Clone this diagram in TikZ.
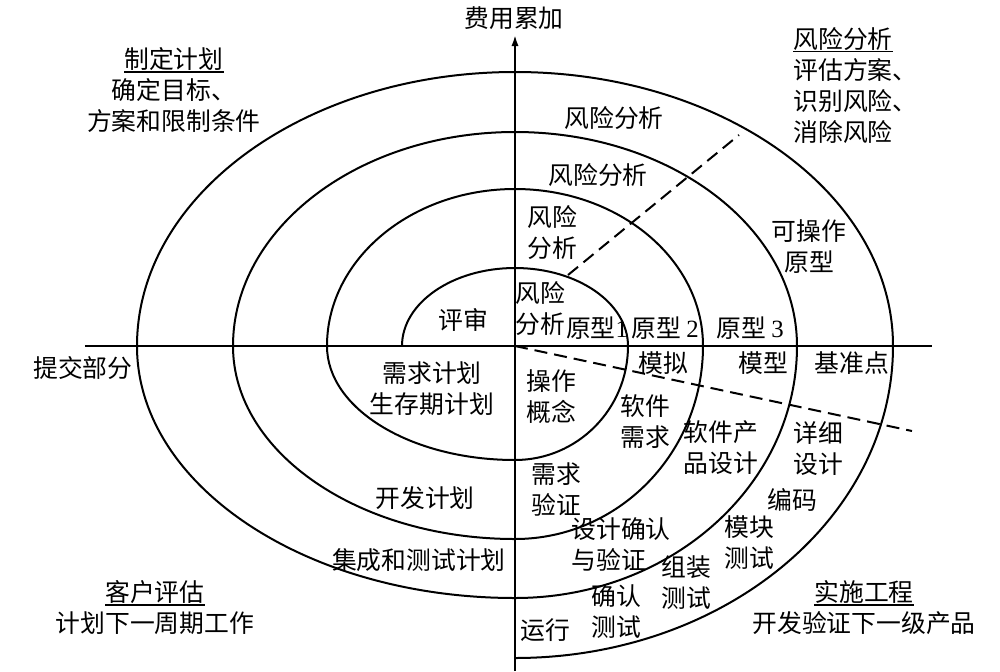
\documentclass[tikz,border=0pt]{standalone}
\usepackage{fontspec}
\setmainfont{Noto Sans CJK SC}
\newfontfamily\numfont{Liberation Serif}
\usetikzlibrary{arrows.meta,
                positioning}
\newcommand\qtitle[1]{\setbox0\hbox{#1}\rlap{\rule[-2.2pt]{\wd0}{0.9pt}}\box0}
\tikzset{
       arr/.style = {-{Latex[length=5.5pt, width=3.6pt]}, line width=1pt},   % <--- axis arrow
       lbl/.style = {inner sep=0pt, align=center, % <---
                     font=\fontsize{12.4pt}{15.5pt}\selectfont},
      note/.style = {lbl, align=left},
    spiral/.style = {line width=1pt, line join=round},
       cut/.style = {line width=1pt, dash pattern=on 6.5pt off 3.5pt},
        }

\begin{document}
\begin{tikzpicture}[x=0.5pt, y=0.5pt]
  \useasboundingbox (-515,-325) rectangle (485,346);
  % axes
  \coordinate (O) at (0,0);
  \coordinate (ybot) at (0,-325);
  \coordinate (ytop) at (0,311);
  \coordinate (xl) at (-430,0);
  \coordinate (xr) at (417,0);
  \draw[line width=1pt] (xl) -- (xr);
  \draw[arr] (ybot) -- (ytop);
  % spiral, one quarter ellipse per quadrant
  \draw[spiral] (-113,0)
    \foreach \sa/\ea/\rx/\ry in {180/90/113/78, 90/0/113/78, 0/-90/113/114,
        270/180/188/114, 180/90/188/157, 90/0/188/157, 0/-90/188/193,
        270/180/282/193, 180/90/282/214, 90/0/282/214, 0/-90/282/252,
        270/180/378/252, 180/90/378/274, 90/0/378/274, 0/-90/378/312}
    { arc[start angle=\sa, end angle=\ea, x radius=\rx, y radius=\ry] };
  % dashed cuts
  \coordinate (cutA) at (53,71);
  \coordinate (cutB) at (224,211);
  \coordinate (cutC) at (397,-85);
  \draw[cut] (cutA) -- (cutB);
  \draw[cut] (O) -- (cutC);
  % quadrant titles
  \node[lbl] (cost) at (-1,328) {费用累加};
  \node[lbl] (plan) at (-341,256) {\qtitle{制定计划}\\确定目标、\\方案和限制条件};
  \node[note, anchor=west] (risk) at (278,261) {\qtitle{风险分析}\\评估方案、\\识别风险、\\消除风险};
  \node[lbl] (deliver) at (-432,-22) {提交部分};
  \node[lbl] (client) at (-360,-261.5) {\qtitle{客户评估}\\计划下一周期工作};
  \node[lbl] (build) at (349,-261.5) {\qtitle{实施工程}\\开发验证下一级产品};
  % upper half
  \node[lbl] (review) at (-52,26) {评审};
  \node[lbl] (riskD) at (99,228) {风险分析};
  \node[lbl] (riskC) at (83,171) {风险分析};
  \node[lbl] (riskB) at (37,113) {风险\\分析};
  \node[lbl] (riskA) at (25,37) {风险\\分析};
  \node[lbl] (protoA) at (82,18) {原型{\numfont 1}};
  \node[lbl] (protoB) at (150,18) {原型 {\numfont 2}};
  \node[lbl] (protoC) at (235,18) {原型 {\numfont 3}};
  \node[lbl] (protoD) at (294,99) {可操作\\原型};
  % lower right
  \node[lbl] (simu) at (148,-17) {模拟};
  \node[lbl] (model) at (248,-17) {模型};
  \node[lbl] (bench) at (337,-17) {基准点};
  \node[lbl] (concept) at (36,-51) {操作\\概念};
  \node[lbl] (swreq) at (130,-76) {软件\\需求};
  \node[lbl] (prodes) at (206,-102) {软件产\\品设计};
  \node[lbl] (detdes) at (303,-103) {详细\\设计};
  \node[lbl] (code) at (277,-154) {编码};
  \node[lbl] (unit) at (234,-197) {模块\\测试};
  \node[lbl] (reqval) at (41,-143) {需求\\验证};
  \node[note, anchor=west] (desval) at (56,-198) {设计确认\\与验证};
  \node[lbl] (integ) at (171,-237) {组装\\测试};
  \node[lbl] (accept) at (101,-266) {确认\\测试};
  \node[lbl] (run) at (30,-284) {运行};
  % lower left
  \node[lbl] (reqplan) at (-83,-43) {需求计划\\生存期计划};
  \node[lbl] (devplan) at (-90,-152) {开发计划};
  \node[lbl] (testplan) at (-96,-214) {集成和测试计划};
\end{tikzpicture}
\end{document}
